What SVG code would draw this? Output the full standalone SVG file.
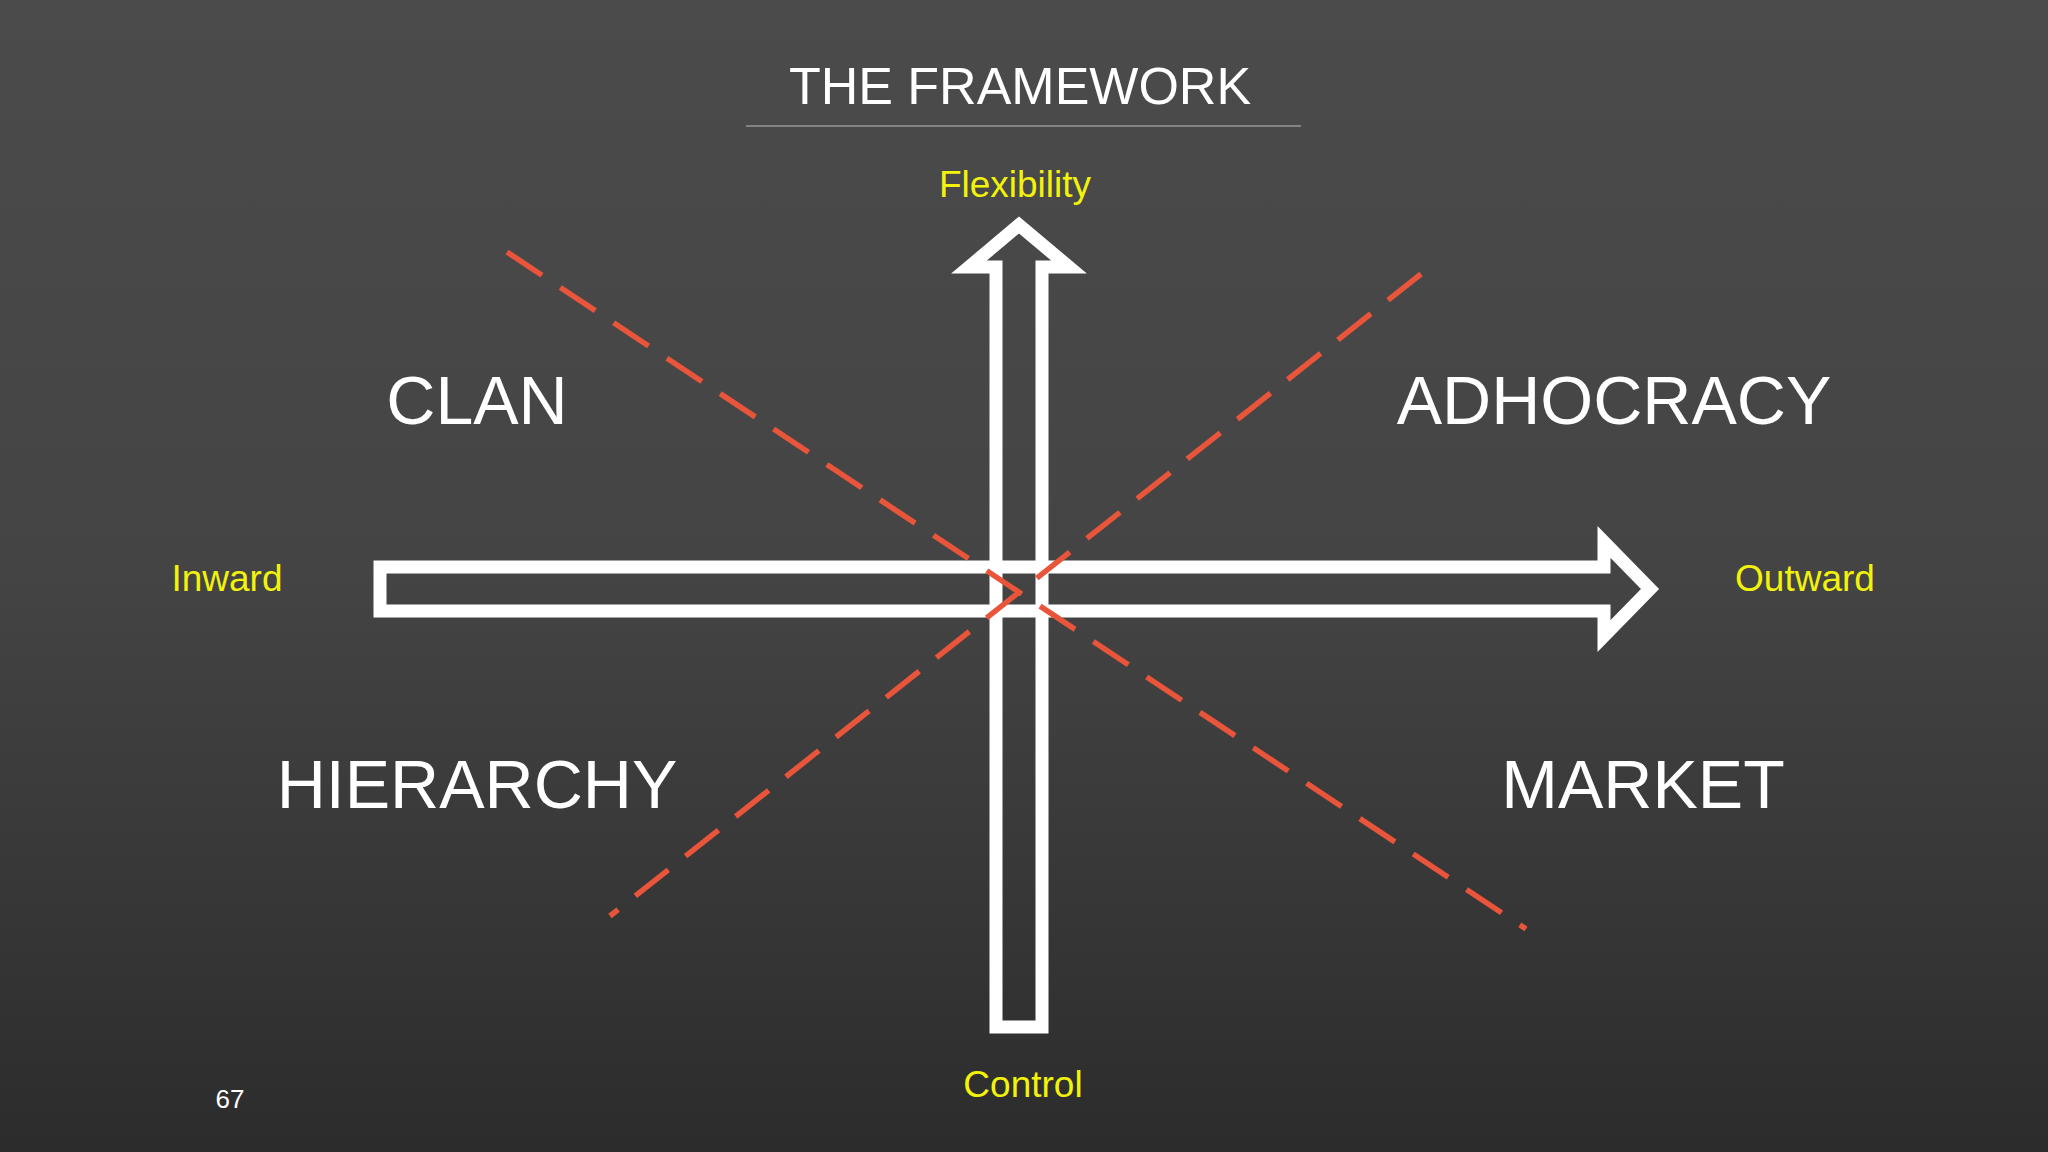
<svg xmlns="http://www.w3.org/2000/svg" width="2048" height="1152" viewBox="0 0 2048 1152">
<defs>
<linearGradient id="bg" x1="0" y1="0" x2="0" y2="1">
<stop offset="0" stop-color="#4b4b4b"/><stop offset="0.5" stop-color="#444"/><stop offset="1" stop-color="#2c2c2c"/>
</linearGradient>
<style>
.t{font-family:"Liberation Sans",Arial,sans-serif;fill:#fff;text-anchor:middle}
.y{font-family:"Liberation Sans",Arial,sans-serif;fill:#f2f20a;text-anchor:middle;font-size:37px}
.q{font-size:68px}
.arr{fill:none;stroke:#fff;stroke-width:13}
.d{stroke:#e8553a;stroke-width:5.5;stroke-dasharray:42 22;fill:none}
</style>
</defs>
<rect width="2048" height="1152" fill="url(#bg)"/>
<g id="title"><text class="t" x="1020" y="104" font-size="52">THE FRAMEWORK</text>
<line x1="746" y1="126" x2="1301" y2="126" stroke="#999" stroke-width="1.5"/></g>
<g id="connectors">
<path id="h-arrow" class="arr" d="M380,567 H1604 V542 L1650,589 L1604,636 V611 H380 Z"/>
<path id="v-arrow" class="arr" d="M996,1027 V267 H969 L1019,225 L1069,267 H1042 V1027 Z"/>
<line class="d" x1="507" y1="252" x2="1526" y2="929"/>
<line class="d" x1="1421" y1="274" x2="610" y2="916"/>
</g>
<g id="flex"><text class="y" x="1015" y="197">Flexibility</text></g>
<g id="control"><text class="y" x="1023" y="1097">Control</text></g>
<g id="inward"><text class="y" x="227" y="591">Inward</text></g>
<g id="outward"><text class="y" x="1805" y="591">Outward</text></g>
<g id="clan"><text class="t q" x="477" y="424">CLAN</text></g>
<g id="adhocracy"><text class="t q" x="1614" y="424">ADHOCRACY</text></g>
<g id="hierarchy"><text class="t q" x="477" y="808">HIERARCHY</text></g>
<g id="market"><text class="t q" x="1643" y="808">MARKET</text></g>
<g id="page"><text class="t" x="230" y="1108" font-size="26">67</text></g>
</svg>
